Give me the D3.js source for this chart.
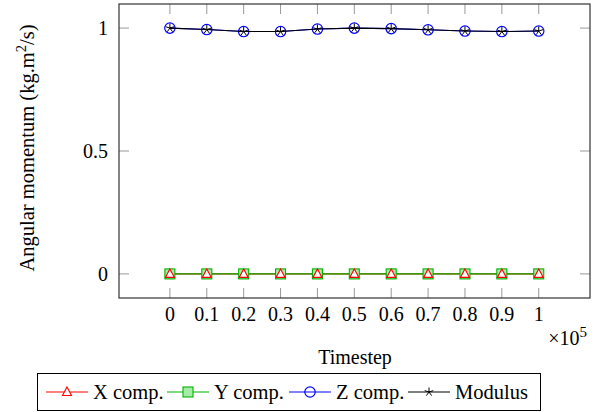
<!DOCTYPE html>
<html>
<head>
<meta charset="utf-8">
<script src="https://cdn.jsdelivr.net/npm/d3@7"></script>
<style>
  body { margin: 0; background: #fff; }
  svg { display: block; }
  svg text { font-family: "Liberation Serif", "DejaVu Serif", serif; }
</style>
</head>
<body>
<svg id="chart" width="601" height="412"></svg>
<script>
// data (timestep in units of 1e5)
const timesteps = [0, 0.1, 0.2, 0.3, 0.4, 0.5, 0.6, 0.7, 0.8, 0.9, 1];
const xComp = [0, 0, 0, 0, 0, 0, 0, 0, 0, 0, 0];
const yComp = [0, 0, 0, 0, 0, 0, 0, 0, 0, 0, 0];
const zComp = [1.0, 0.994, 0.986, 0.986, 0.996, 1.0, 0.998, 0.993, 0.988, 0.986, 0.988];
const modulus = [1.0, 0.994, 0.986, 0.986, 0.996, 1.0, 0.998, 0.993, 0.988, 0.986, 0.988];
const xTicks = [0, 0.1, 0.2, 0.3, 0.4, 0.5, 0.6, 0.7, 0.8, 0.9, 1];
const yTicks = [0, 0.5, 1];
const legendLabels = ["X comp.", "Y comp.", "Z comp.", "Modulus"];

const svg = d3.select("#chart").attr("font-family", "Liberation Serif, DejaVu Serif, serif");
const plotL = 119, plotR = 590, plotT = 4, plotB = 298;

const x = d3.scaleLinear().domain([-0.138, 1.139]).range([plotL, plotR]);
const y = d3.scaleLinear().domain([-0.098, 1.098]).range([plotB, plotT]);

const tickLen = 10;
const tickColor = "#999";
const fs = "20px";

// ticks (inward, all four sides)
const tg = svg.append("g");
xTicks.forEach(t => {
    tg.append("line").attr("x1", x(t)).attr("x2", x(t)).attr("y1", plotB).attr("y2", plotB - tickLen)
        .attr("stroke", tickColor).attr("stroke-width", 1);
    tg.append("line").attr("x1", x(t)).attr("x2", x(t)).attr("y1", plotT).attr("y2", plotT + tickLen)
        .attr("stroke", tickColor).attr("stroke-width", 1);
});
yTicks.forEach(t => {
    tg.append("line").attr("x1", plotL).attr("x2", plotL + tickLen).attr("y1", y(t)).attr("y2", y(t))
        .attr("stroke", tickColor).attr("stroke-width", 1);
    tg.append("line").attr("x1", plotR).attr("x2", plotR - tickLen).attr("y1", y(t)).attr("y2", y(t))
        .attr("stroke", tickColor).attr("stroke-width", 1);
});

// frame
svg.append("rect").attr("x", plotL).attr("y", plotT).attr("width", plotR - plotL).attr("height", plotB - plotT)
    .attr("fill", "none").attr("stroke", "#333").attr("stroke-width", 1.2);

// tick labels
svg.append("g").selectAll("text").data(xTicks).enter().append("text")
    .attr("x", d => x(d)).attr("y", 321)
    .attr("text-anchor", "middle").attr("font-size", fs)
    .text(d => d3.format("")(d));
svg.append("g").selectAll("text").data(yTicks).enter().append("text")
    .attr("x", 108).attr("y", d => y(d) + 7)
    .attr("text-anchor", "end").attr("font-size", fs)
    .text(d => d);

// axis labels
const xl = svg.append("text").attr("x", 587).attr("y", 345).attr("text-anchor", "end").attr("font-size", fs);
xl.append("tspan").text("×10");
xl.append("tspan").attr("font-size", "15px").attr("dy", -8).text("5");
svg.append("text").attr("x", 355).attr("y", 364).attr("text-anchor", "middle").attr("font-size", fs).text("Timestep");

const yl = svg.append("text").attr("transform", `translate(34,${(plotT + plotB) / 2 - 3}) rotate(-90)`)
    .attr("text-anchor", "middle").attr("font-size", "20.5px");
yl.append("tspan").text("Angular momentum (kg.m");
yl.append("tspan").attr("font-size", "14.5px").attr("dy", -8).text("2");
yl.append("tspan").attr("dy", 8).text("/s)");

// series
const line = vals => d3.line().x((d, i) => x(timesteps[i])).y(d => y(d))(vals);
const red = "#ff0000", green = "#00b400", blue = "#0000ff", black = "#000";

function triangle(g, cx, cy) {
    g.append("path").attr("d", `M${cx},${cy - 5}L${cx + 4.5},${cy + 3.5}L${cx - 4.5},${cy + 3.5}Z`)
        .attr("fill", "#fff").attr("stroke", red).attr("stroke-width", 1.1);
}
function square(g, cx, cy) {
    g.append("rect").attr("x", cx - 5).attr("y", cy - 5).attr("width", 10).attr("height", 10)
        .attr("fill", "#a8eaa8").attr("stroke", green).attr("stroke-width", 1.1);
}
function circle(g, cx, cy) {
    g.append("circle").attr("cx", cx).attr("cy", cy).attr("r", 5.2)
        .attr("fill", "none").attr("stroke", blue).attr("stroke-width", 1.2);
}
function star(g, cx, cy) {
    for (let k = 0; k < 5; k++) {
        const a = -Math.PI / 2 + k * 2 * Math.PI / 5;
        g.append("line").attr("x1", cx).attr("y1", cy)
            .attr("x2", cx + 4.5 * Math.cos(a)).attr("y2", cy + 4.5 * Math.sin(a))
            .attr("stroke", black).attr("stroke-width", 1);
    }
}

const plot = svg.append("g");
plot.append("path").attr("d", line(xComp)).attr("fill", "none").attr("stroke", red).attr("stroke-width", 1.1);
plot.append("path").attr("d", line(yComp)).attr("fill", "none").attr("stroke", green).attr("stroke-width", 1.1);
yComp.forEach((v, i) => square(plot, x(timesteps[i]), y(v)));
xComp.forEach((v, i) => triangle(plot, x(timesteps[i]), y(v)));
plot.append("path").attr("d", line(zComp)).attr("fill", "none").attr("stroke", blue).attr("stroke-width", 1.1);
zComp.forEach((v, i) => circle(plot, x(timesteps[i]), y(v)));
plot.append("path").attr("d", line(modulus)).attr("fill", "none").attr("stroke", black).attr("stroke-width", 1.1);
modulus.forEach((v, i) => star(plot, x(timesteps[i]), y(v)));

// legend
const lg = svg.append("g");
lg.append("rect").attr("x", 37.5).attr("y", 373.5).attr("width", 503).attr("height", 37)
    .attr("fill", "#fff").attr("stroke", "#000").attr("stroke-width", 1);
const legendX = [46, 167, 289, 408];
const legendColors = [red, green, blue, black];
const legendMarks = [triangle, square, circle, star];
legendLabels.forEach((lab, i) => {
    const lx = legendX[i], ly = 392;
    lg.append("line").attr("x1", lx).attr("x2", lx + 42).attr("y1", ly).attr("y2", ly)
        .attr("stroke", legendColors[i]).attr("stroke-width", 1.1);
    legendMarks[i](lg, lx + 21, ly);
    lg.append("text").attr("x", lx + 47).attr("y", ly + 7).attr("font-size", "20.5px").text(lab);
});
</script>
</body>
</html>
